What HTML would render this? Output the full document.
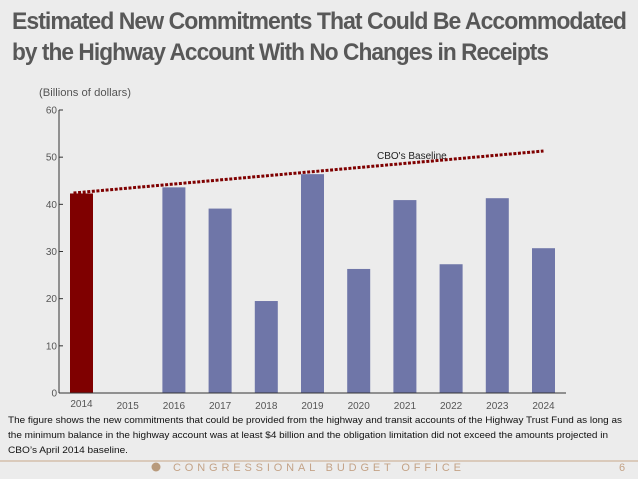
<!DOCTYPE html>
<html><head><meta charset="utf-8"><style>
html,body{margin:0;padding:0;background:#ececec;}
svg{display:block;font-family:"Liberation Sans",sans-serif;}
</style></head><body>
<svg id="chart" width="638" height="479" viewBox="0 0 638 479" xmlns="http://www.w3.org/2000/svg">
<rect x="0" y="0" width="638" height="479" fill="#ececec"/>
<text x="12" y="29" font-size="24" font-weight="bold" fill="#585858" textLength="614" lengthAdjust="spacingAndGlyphs" letter-spacing="-1">Estimated New Commitments That Could Be Accommodated</text>
<text x="12" y="60" font-size="24" font-weight="bold" fill="#585858" textLength="536" lengthAdjust="spacingAndGlyphs" letter-spacing="-1">by the Highway Account With No Changes in Receipts</text>
<text x="39" y="96" font-size="11" fill="#555" textLength="92" lengthAdjust="spacingAndGlyphs">(Billions of dollars)</text>
<g id="yaxis"></g>
<g id="bars"></g>
<g id="xaxis"></g>
<g id="baseline"></g>
<text x="377" y="159" font-size="10" fill="#222">CBO's Baseline</text>
<text x="8" y="423" font-size="9.5" fill="#111" textLength="614" lengthAdjust="spacingAndGlyphs">The figure shows the new commitments that could be provided from the highway and transit accounts of the Highway Trust Fund as long as</text>
<text x="8" y="438" font-size="9.5" fill="#111" textLength="600" lengthAdjust="spacingAndGlyphs">the minimum balance in the highway account was at least $4 billion and the obligation limitation did not exceed the amounts projected in</text>
<text x="8" y="453" font-size="9.5" fill="#111" textLength="120" lengthAdjust="spacingAndGlyphs">CBO’s April 2014 baseline.</text>
<line x1="0" y1="461" x2="638" y2="461" stroke="#c8a88a" stroke-width="1"/>
<circle cx="156" cy="467" r="4.5" fill="#b89a7c"/>
<text x="173" y="471" font-size="11" fill="#c4a387" textLength="288" lengthAdjust="spacing">CONGRESSIONAL BUDGET OFFICE</text>
<text x="619" y="471" font-size="11" fill="#c4a387">6</text>
</svg>
<script>
const years = ["2014","2015","2016","2017","2018","2019","2020","2021","2022","2023","2024"];
const values = [42.3, null, 43.6, 39.1, 19.5, 46.4, 26.3, 40.9, 27.3, 41.3, 30.7];
const baselineStart = 42.4;
const baselineEnd = 51.3;
const yTicks = [0,10,20,30,40,50,60];

const NS = "http://www.w3.org/2000/svg";
const y0 = 393, pxPerUnit = 283/60;
function yScale(v){ return y0 - v*pxPerUnit; }
function xScale(i){ return 81.5 + i*46.2; }
function mk(tag, attrs, parent){ const e=document.createElementNS(NS,tag); for(const k in attrs) e.setAttribute(k,attrs[k]); parent.appendChild(e); return e; }

const ya = document.getElementById('yaxis');
let l = mk('line',{x1:59,y1:yScale(60),x2:59,y2:y0,stroke:'#333','stroke-width':1},ya);


yTicks.forEach(t=>{
  const tk = mk('line',{x1:59,y1:yScale(t),x2:63,y2:yScale(t),stroke:'#333','stroke-width':1},ya);
  
  
  const tx = mk('text',{x:57,y:yScale(t)+3.5,'font-size':10,'text-anchor':'end',fill:'#555'},ya);
  tx.textContent = t;
  
  
});

const bg = document.getElementById('bars');
values.forEach((v,i)=>{
  if(v===null) return;
  const r = mk('rect',{x:xScale(i)-11.5,y:yScale(v),width:23,height:y0-yScale(v),fill:i===0?'#7f0000':'#6f76a8'},bg);
  
  
});

const xa = document.getElementById('xaxis');
l = mk('line',{x1:59,y1:y0,x2:566,y2:y0,stroke:'#333','stroke-width':1},xa);


years.forEach((yr,i)=>{
  const tx = mk('text',{x:xScale(i),y:i===0?407:409,'font-size':10,'text-anchor':'middle',fill:'#555'},xa);
  tx.textContent = yr;
  
  
});

const bl = document.getElementById('baseline');
const ln = mk('line',{x1:xScale(0)-8,y1:yScale(baselineStart),x2:xScale(years.length-1),y2:yScale(baselineEnd),stroke:'#7f0000','stroke-width':3,'stroke-dasharray':'3,1.6'},bl);


</script>
</body></html>
